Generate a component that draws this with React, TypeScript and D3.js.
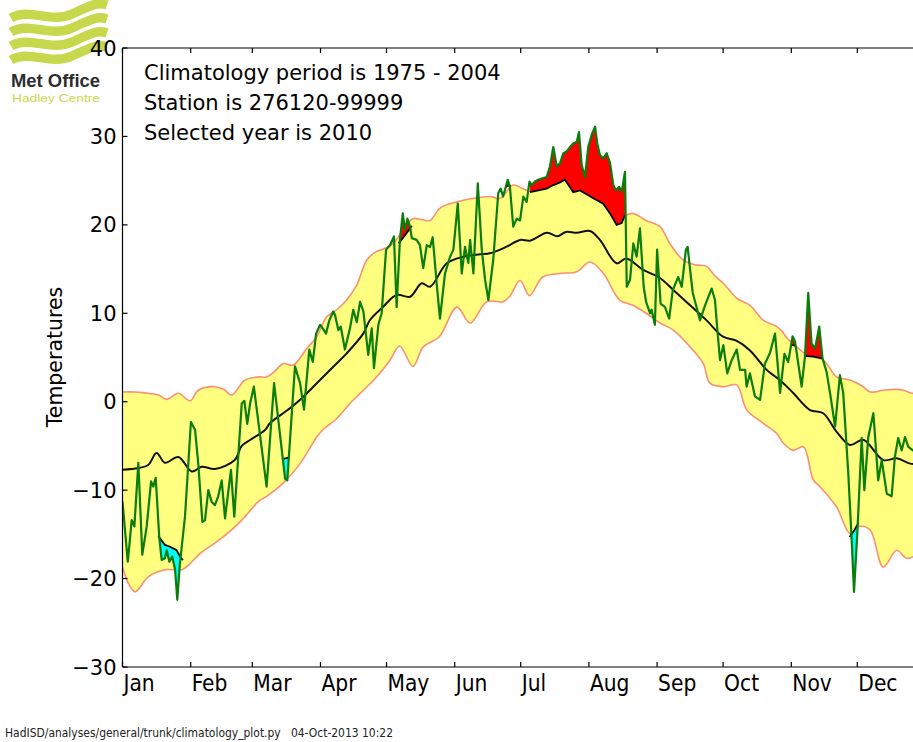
import React, { useEffect, useRef } from 'react';
import * as d3 from 'd3';

// month labels sit at the first day of each month
const months = ['Jan', 'Feb', 'Mar', 'Apr', 'May', 'Jun', 'Jul', 'Aug', 'Sep', 'Oct', 'Nov', 'Dec'];
const monthStarts = [0, 31, 59, 90, 120, 151, 181, 212, 243, 273, 304, 334];
const yTicks = [-30, -20, -10, 0, 10, 20, 30, 40];

const notes = ['Climatology period is 1975 - 2004', 'Station is 276120-99999', 'Selected year is 2010'];

// climatology band (upper / lower envelope) and mean
const upperDays = [0, 5.7, 10, 16.3, 20.1, 25.4, 30.7, 34.5, 42, 46, 49.6, 55.7, 61.7, 65.5, 69, 73, 77.6, 83.7, 88.3, 92.8, 97.4, 101.9, 106.5, 111, 115.5, 118, 123, 128, 132, 136, 139.8, 144.3, 152, 159.5, 167, 171.6, 177.6, 182, 185.2, 190, 196, 201, 205, 210, 214, 218.5, 222, 225, 228.4, 232, 238, 244.3, 249, 254.9, 260, 265.5, 269, 273.1, 279.2, 285.2, 291.3, 297.4, 300, 302, 306.5, 311, 318.5, 324.6, 330.7, 336, 340, 345.8, 351, 355, 359, 365];
const upperVals = [1.1, 1.1, 1.0, 0.76, 0.27, 0.95, 0.1, 1.3, 1.7, 1.4, 0.76, 2.45, 2.8, 2.8, 3.4, 4.3, 4.15, 6.0, 7.35, 9.6, 10.4, 11.5, 13.2, 16.0, 17.0, 17.2, 17.9, 19.6, 20.7, 20.6, 20.5, 21.9, 22.6, 23.0, 23.2, 23.0, 24.5, 24.1, 23.8, 24.3, 24.8, 25.3, 24.2, 24.0, 23.4, 22.8, 22.0, 21.4, 21.1, 21.3, 20.5, 19.8, 17.8, 16.0, 15.5, 15.3, 14.3, 13.4, 11.7, 10.9, 9.2, 8.5, 7.9, 7.2, 6.2, 5.3, 4.7, 2.8, 2.45, 1.8, 1.1, 1.3, 1.4, 1.3, 0.95, 0.9];

const lowerDays = [0, 2.6, 5.7, 11.7, 19.3, 26.9, 29.9, 36, 42, 49.6, 55.7, 61.7, 65.5, 73, 80.7, 88.3, 91, 97.4, 103.4, 109.5, 115.5, 121.6, 126, 132, 136.7, 144, 152, 158, 165.6, 173, 176, 180.7, 185, 191, 199, 206.5, 212.5, 218.6, 226, 232, 238, 244.3, 250.4, 258, 264, 267, 273.1, 279.2, 283.7, 291.3, 297.4, 300.4, 304.9, 309.5, 314, 317, 324.6, 330.7, 335, 339.8, 345.8, 351.9, 356.3, 360, 365];
const lowerVals = [-18.7, -20.5, -21.5, -19.8, -19.0, -19.0, -18.5, -17.0, -16.0, -14.5, -13.0, -11.3, -10.7, -9.2, -7.0, -4.0, -3.2, -1.9, -0.2, 1.3, 2.8, 4.7, 6.3, 4.0, 6.2, 7.35, 10.7, 8.9, 11.3, 11.3, 11.9, 13.7, 12.0, 14.1, 14.5, 14.7, 15.8, 14.5, 11.5, 10.9, 10.0, 8.9, 8.1, 6.2, 4.3, 2.1, 1.7, 1.9, -0.9, -2.45, -3.6, -4.7, -5.5, -5.1, -8.85, -9.6, -11.9, -14.9, -14.1, -14.5, -18.7, -16.8, -17.7, -17.5, -17.5];

const meanDays = [0, 7.2, 11.7, 15.5, 19.3, 25.4, 31.5, 36, 42, 51, 54.2, 58, 64.8, 67, 76.1, 82.2, 88.3, 95.8, 101.9, 109.5, 112.5, 118.5, 124.6, 130.7, 136, 139.8, 147.4, 154.9, 162.5, 167, 174.6, 180.7, 185.2, 193, 197.7, 201.5, 206.5, 212.5, 217, 224.6, 229, 236.7, 244, 250.5, 258, 265.5, 273, 279, 285, 292.8, 297, 300.4, 305, 312.5, 318.5, 324.6, 330.7, 336.7, 345.8, 351.9, 358, 365];
const meanVals = [-7.7, -7.5, -7.15, -5.8, -6.9, -6.25, -7.9, -7.35, -7.6, -6.6, -5.0, -4.33, -3.2, -2.44, -0.75, 0.57, 2.08, 3.96, 5.47, 7.73, 9.24, 10.75, 12.07, 11.87, 13.39, 13.01, 15.65, 16.4, 16.67, 16.78, 17.53, 18.29, 18.21, 19.1, 18.7, 19.2, 19.1, 19.3, 18.3, 15.65, 16.2, 14.9, 14.05, 12.6, 10.9, 9.2, 7.35, 6.9, 5.85, 3.6, 2.8, 2.1, 0.95, -0.94, -1.3, -3.4, -4.9, -4.3, -6.6, -6.4, -7.0, -7.0];

// selected year (2010), daily turning points
const greenDays = [0, 2.4, 4.2, 5.4, 7.2, 9, 11, 13, 14, 15.1, 16.7, 17.8, 19.3, 20.1, 21.3, 22.6, 23.9, 24.9, 26.1, 28.4, 31.1, 33, 34.5, 36.3, 37.5, 39, 40.5, 42, 43.5, 45.1, 46.6, 49.3, 50.8, 54.2, 55.4, 56.7, 58, 59.7, 65.5, 68.9, 73.9, 74.9, 78.4, 80.7, 82.5, 84.9, 86.5, 88, 89.8, 91, 92.5, 94, 95.8, 96.6, 98.1, 99.2, 101.1, 103.4, 104.9, 106.5, 108, 109.5, 111.7, 113.3, 114.3, 116.3, 117.8, 119.8, 121.6, 123.4, 124.6, 126.1, 127.4, 128.4, 129.5, 130.7, 131.5, 133.7, 135.2, 136.7, 138.3, 139.8, 141, 142.8, 144.3, 146.6, 148.9, 150.4, 152.4, 154.2, 155.7, 157.2, 158, 159.5, 161.5, 163.3, 164.8, 166.3, 168.5, 170.8, 171.9, 173, 175.1, 176.1, 177.6, 179.2, 180.7, 182.2, 183.7, 185, 186, 187.5, 189, 191.3, 192.8, 194.3, 195.8, 197.4, 198.9, 200.4, 201.9, 203.4, 204.9, 206.5, 207.5, 208.7, 210.2, 211.7, 213.3, 214.8, 215.8, 217, 218.5, 220.1, 221.6, 223.1, 224.3, 225.8, 226.9, 228.4, 229.2, 230.7, 232.2, 233.7, 235.2, 236.9, 238, 239.8, 240.5, 242, 243, 244.6, 246.6, 248.5, 250.1, 251.1, 252.6, 254.2, 256.1, 256.9, 258, 259.2, 260.7, 262.5, 264.8, 267.8, 269.3, 270.4, 271.6, 273.1, 274.9, 276.9, 279.2, 280.7, 283, 283.7, 285.2, 287.5, 289.8, 292, 294.3, 296.6, 298.9, 300.9, 302.6, 304.6, 305.7, 308.7, 310.2, 311.7, 313.2, 314.8, 316.7, 318.2, 320, 321.6, 323.9, 326.1, 327.6, 329.9, 331.4, 332.5, 334, 336, 337.2, 339, 341.3, 343.5, 345.1, 347.4, 349.6, 351.1, 352.6, 354.2, 355.7, 357.2, 359.3, 362, 365];
const greenVals = [-11.3, -18.1, -13.4, -14.1, -6.9, -17.3, -14.1, -9.0, -9.6, -8.6, -15.3, -17.9, -17.7, -16.8, -18.1, -17.5, -19.0, -22.4, -18.3, -13.0, -2.3, -3.2, -7.2, -13.6, -13.4, -10.0, -11.3, -11.7, -10.7, -8.9, -13.2, -7.7, -13.0, -0.2, 0.1, -2.5, -0.2, 1.7, -9.6, 2.1, -8.7, -8.9, 4.0, 2.1, -0.9, 5.9, 4.5, 7.7, 8.7, 8.3, 7.7, 9.2, 10.2, 9.8, 8.1, 8.5, 5.9, 8.3, 10.4, 9.0, 11.3, 10.2, 5.3, 8.3, 3.8, 8.7, 10.0, 17.2, 17.7, 18.7, 10.7, 18.3, 21.3, 19.4, 20.7, 19.8, 18.5, 18.3, 17.7, 15.1, 17.7, 17.5, 18.6, 13.4, 9.4, 14.5, 16.4, 17.2, 22.4, 14.5, 17.5, 15.7, 18.3, 14.5, 24.7, 17.2, 13.8, 11.5, 16.0, 23.6, 24.1, 23.2, 25.1, 24.3, 19.8, 20.7, 20.5, 23.2, 22.6, 24.9, 24.5, 24.9, 25.1, 25.3, 25.4, 26.6, 28.8, 26.6, 27.0, 28.1, 28.3, 28.8, 29.2, 29.4, 30.5, 26.8, 25.4, 28.8, 30.2, 31.1, 29.2, 27.9, 27.5, 28.1, 27.0, 24.5, 23.9, 24.3, 23.7, 26.0, 13.0, 13.8, 17.9, 16.4, 19.6, 13.0, 11.3, 10.0, 10.4, 8.7, 17.2, 11.1, 10.7, 9.4, 12.6, 13.2, 14.1, 13.0, 17.2, 17.5, 14.9, 12.3, 10.9, 9.2, 10.9, 12.8, 11.5, 8.1, 4.7, 6.4, 3.2, 4.7, 5.9, 3.6, 3.6, 1.7, 3.2, 0.6, 0.2, 4.3, 5.5, 7.7, 1.0, 5.4, 4.5, 7.4, 6.8, 1.7, 5.1, 12.3, 6.6, 6.0, 8.5, 4.9, 3.4, 1.0, -2.8, 3.0, 1.0, -8.1, -15.4, -21.5, -14.9, -4.1, -10.0, -4.0, -1.3, -8.9, -6.6, -10.4, -10.7, -6.2, -4.1, -5.5, -4.0, -5.1, -5.5, -6.0, -6.5];

// exceedance thresholds where the year went above (red) / below (cyan)
const hotThrDays = [[125.5, 128, 130.7, 131.5], [174, 175, 176.3], [185.2, 192.8, 195.8, 198.9, 201.1, 204.9, 208, 214, 218.5, 221.6, 224.6, 226.9, 228.4], [303.5, 306], [309.8, 314, 318.2]];
const hotThrVals = [[17.9, 18.7, 19.6, 19.9], [24.3, 24.4, 24.5], [23.7, 24.1, 24.5, 24.8, 25.1, 23.7, 23.9, 23.0, 22.4, 21.3, 20.0, 20.2, 21.1], [6.5, 6.3], [5.2, 5.1, 4.9]];
const coldThrDays = [[16.3, 19.3, 21.6, 24.6, 26.6, 27.5], [72.5, 76], [330.5, 332.5, 334.5]];
const coldThrVals = [[-15.2, -16.2, -16.4, -16.8, -17.7, -17.9], [-6.5, -6.3], [-15.3, -14.6, -13.7]];

const W = 913;
const H = 742;
const FONT = "'DejaVu Sans', Verdana, sans-serif";
const COND = "'DejaVu Sans Condensed', 'DejaVu Sans', sans-serif";

const App: React.FC = () => {
  const svgRef = useRef<SVGSVGElement>(null);

  useEffect(() => {
    if (!svgRef.current) return;
    const svg = d3.select(svgRef.current);
    svg.selectAll('*').remove();

    const left = 122.5, top = 48, bottom = 667;
    const x = d3.scaleLinear().domain([0, 365]).range([left, left + 365 * 2.2]);
    const y = d3.scaleLinear().domain([-30, 40]).range([bottom, top]);

    svg.append('rect').attr('width', W).attr('height', H).attr('fill', '#fff');

    // Met Office logo (drawn first, the 40 label sits over it)
    const logo = svg.append('g');
    [0, 1, 2, 3].forEach(i => {
      const b = 11 + i * 14;
      logo.append('path')
        .attr('d', `M11,${b + 7} C30,${b - 4} 50,${b + 13} 72,${b + 3} S98,${b - 9} 107,${b - 6}`)
        .attr('fill', 'none').attr('stroke', '#c7d84d').attr('stroke-width', 9.5);
    });
    logo.append('text').attr('x', 11).attr('y', 87).attr('textLength', 89).attr('lengthAdjust', 'spacingAndGlyphs')
      .style('font-family', "'Liberation Sans', Arial, sans-serif").style('font-weight', 'bold').style('font-size', '19px')
      .attr('fill', '#2d2d2d').text('Met Office');
    logo.append('text').attr('x', 12).attr('y', 102).attr('textLength', 88).attr('lengthAdjust', 'spacingAndGlyphs')
      .style('font-family', "'Liberation Sans', Arial, sans-serif").style('font-size', '11.5px')
      .attr('fill', '#c7d84d').text('Hadley Centre');

    svg.append('defs').append('clipPath').attr('id', 'plotclip')
      .append('rect').attr('x', left).attr('y', top).attr('width', W - left).attr('height', bottom - top);

    const plot = svg.append('g').attr('clip-path', 'url(#plotclip)');

    const pts = (ds: number[], vs: number[]) => ds.map((d, i) => [d, vs[i]] as [number, number]);
    const smooth = d3.line<[number, number]>().x(d => x(d[0])).y(d => y(d[1])).curve(d3.curveCatmullRom.alpha(0.5));
    const straight = d3.line<[number, number]>().x(d => x(d[0])).y(d => y(d[1]));

    // yellow band
    const upPath = smooth(pts(upperDays, upperVals)) as string;
    const lowPath = (smooth(pts(lowerDays, lowerVals).reverse()) as string).replace(/^M/, 'L');
    plot.append('path').attr('d', upPath + lowPath + 'Z').attr('fill', '#ffff80').attr('stroke', 'none');
    [upPath, smooth(pts(lowerDays, lowerVals)) as string].forEach(p => {
      plot.append('path').attr('d', p).attr('fill', 'none').attr('stroke', '#fa8f74').attr('stroke-width', 1.6);
    });

    // climatological mean
    plot.append('path').attr('d', smooth(pts(meanDays, meanVals)))
      .attr('fill', 'none').attr('stroke', '#111').attr('stroke-width', 2);

    // exceedance fills
    const g = d3.scaleLinear().domain(greenDays).range(greenVals);
    const drawEvents = (dayList: number[][], valList: number[][], hot: boolean) => {
      dayList.forEach((td, k) => {
        const t = d3.scaleLinear().domain(td).range(valList[k]);
        const d0 = td[0], d1 = td[td.length - 1];
        const samples = d3.range(d0, d1, 0.05).concat(greenDays.filter(d => d > d0 && d < d1), [d1]).sort((a, b) => a - b);
        const area = d3.area<number>()
          .x(d => x(d))
          .y0(d => y(t(d)))
          .y1(d => y(hot ? Math.max(g(d), t(d)) : Math.min(g(d), t(d))));
        plot.append('path').attr('d', area(samples)).attr('fill', hot ? '#ff0000' : '#00ffff').attr('stroke', 'none');
        plot.append('path').attr('d', straight(pts(td, valList[k])))
          .attr('fill', 'none').attr('stroke', '#000').attr('stroke-width', 1.8);
      });
    };
    drawEvents(hotThrDays, hotThrVals, true);
    drawEvents(coldThrDays, coldThrVals, false);

    // 2010 daily line
    plot.append('path').attr('d', straight(pts(greenDays, greenVals)))
      .attr('fill', 'none').attr('stroke', '#0a7d0a').attr('stroke-width', 2.2).attr('stroke-linejoin', 'round');

    // spines
    const ax = svg.append('g').attr('stroke', '#000').attr('stroke-width', 1.2);
    ax.append('line').attr('x1', left).attr('x2', left).attr('y1', top).attr('y2', bottom);
    ax.append('line').attr('x1', left).attr('x2', W).attr('y1', top).attr('y2', top);
    ax.append('line').attr('x1', left).attr('x2', W).attr('y1', bottom).attr('y2', bottom);

    // y ticks
    yTicks.forEach(v => {
      ax.append('line').attr('x1', left).attr('x2', left + 5).attr('y1', y(v)).attr('y2', y(v));
      svg.append('text').attr('x', left - 6).attr('y', y(v)).attr('dy', '0.36em')
        .attr('text-anchor', 'end').style('font-family', FONT).style('font-size', '21px').attr('fill', '#000')
        .text(v < 0 ? `\u2212${Math.abs(v)}` : `${v}`);
    });

    // month ticks and labels
    monthStarts.forEach((d, i) => {
      ax.append('line').attr('x1', x(d)).attr('x2', x(d)).attr('y1', bottom).attr('y2', bottom - 5);
      ax.append('line').attr('x1', x(d)).attr('x2', x(d)).attr('y1', top).attr('y2', top + 5);
      svg.append('text').attr('x', x(d) + 1).attr('y', 691)
        .style('font-family', COND).style('font-stretch', 'condensed').style('font-size', '22.5px').attr('fill', '#000')
        .text(months[i]);
    });

    svg.append('text').attr('transform', 'translate(62,357) rotate(-90)').attr('text-anchor', 'middle')
      .style('font-family', FONT).style('font-size', '20.5px').attr('fill', '#000').text('Temperatures');

    notes.forEach((n, i) => {
      svg.append('text').attr('x', 144).attr('y', 80 + i * 30)
        .style('font-family', FONT).style('font-size', '21px').attr('fill', '#000').text(n);
    });

    svg.append('text').attr('x', 5).attr('y', 737).attr('textLength', 388).attr('lengthAdjust', 'spacingAndGlyphs')
      .style('font-family', COND).style('font-stretch', 'condensed').style('font-size', '12px').attr('fill', '#222')
      .style('white-space', 'pre')
      .text('HadISD/analyses/general/trunk/climatology_plot.py   04-Oct-2013 10:22');
  }, []);

  return <svg ref={svgRef} width={W} height={H} style={{ position: 'absolute', left: 0, top: 0 }} />;
};

export default App;
